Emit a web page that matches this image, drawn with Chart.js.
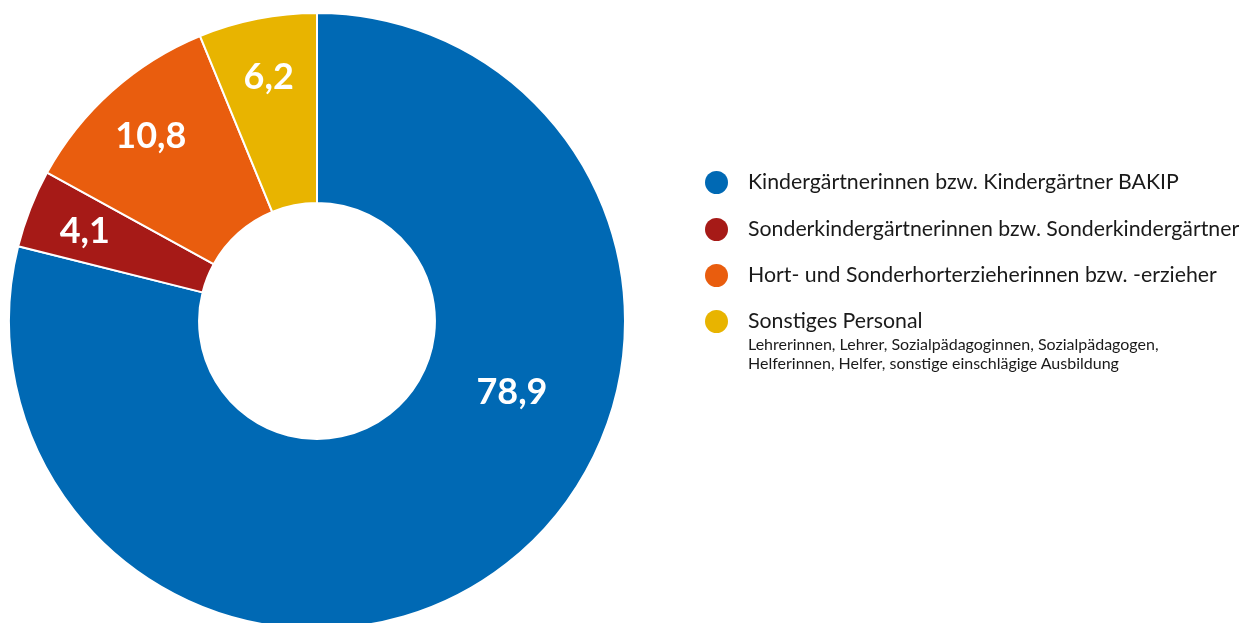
<!DOCTYPE html>
<html>
<head>
<meta charset="utf-8">
<script src="https://cdn.jsdelivr.net/npm/chart.js@4/dist/chart.umd.min.js"></script>
<style>
  html, body { margin: 0; padding: 0; background: #fff; overflow: hidden; width: 1250px; height: 623px; }
  #wrap { position: absolute; left: 0; top: 0; width: 1250px; height: 642px; }
  #legend { position: absolute; left: 705px; top: 0; width: 545px; height: 400px; font-family: Lato, sans-serif; color: #1a1a1a; }
  .dot { position: absolute; left: 0; width: 23px; height: 23px; border-radius: 50%; }
  .lbl { position: absolute; left: 43px; font-size: 21.3px; line-height: 24px; white-space: nowrap; }
  .sub { position: absolute; left: 43px; font-size: 16px; line-height: 19px; white-space: nowrap; }
</style>
</head>
<body>
<div id="wrap"><canvas id="c"></canvas></div>
<div id="legend"></div>
<script>
const categories = [
  "Kindergärtnerinnen bzw. Kindergärtner BAKIP",
  "Sonderkindergärtnerinnen bzw. Sonderkindergärtner",
  "Hort- und Sonderhorterzieherinnen bzw. -erzieher",
  "Sonstiges Personal"
];
const subLabels = [
  [],
  [],
  [],
  ["Lehrerinnen, Lehrer, Sozialpädagoginnen, Sozialpädagogen,", "Helferinnen, Helfer, sonstige einschlägige Ausbildung"]
];
const values = [78.9, 4.1, 10.8, 6.2];
const valueLabels = ["78,9", "4,1", "10,8", "6,2"];
const colors = ["#0069B4", "#A61A17", "#E95D0E", "#E8B400"];

// legend (HTML)
const legendTops = [182, 229, 275, 321];
const legend = document.getElementById('legend');
categories.forEach((c, i) => {
  const y = legendTops[i];
  const dot = document.createElement('div');
  dot.className = 'dot';
  dot.style.top = (y - 11.5) + 'px';
  dot.style.background = colors[i];
  legend.appendChild(dot);
  const l = document.createElement('div');
  l.className = 'lbl';
  l.style.top = (y - 13) + 'px';
  l.textContent = c;
  legend.appendChild(l);
  subLabels[i].forEach((s, j) => {
    const d = document.createElement('div');
    d.className = 'sub';
    d.style.top = (y + 13 + j * 18.5) + 'px';
    d.textContent = s;
    legend.appendChild(d);
  });
});

const labelPlugin = {
  id: 'sliceLabels',
  afterDatasetsDraw(chart) {
    const ctx = chart.ctx;
    const meta = chart.getDatasetMeta(0);
    const fs = 36;
    ctx.save();
    ctx.fillStyle = '#fff';
    ctx.font = 'bold ' + fs + 'px Lato, sans-serif';
    ctx.textAlign = 'center';
    ctx.textBaseline = 'alphabetic';
    meta.data.forEach((arc, i) => {
      const p = arc.getProps(['x', 'y', 'startAngle', 'endAngle', 'innerRadius', 'outerRadius'], true);
      let ang = (p.startAngle + p.endAngle) / 2;
      let r = p.outerRadius * 0.81;
      if (i === 0) { // large slice label placed nearer the right side
        ang = p.startAngle + (p.endAngle - p.startAngle) * 0.386;
        r = p.outerRadius * 0.672;
      }
      ctx.fillText(valueLabels[i], p.x + Math.cos(ang) * r, p.y + Math.sin(ang) * r + fs * 0.36);
    });
    ctx.restore();
  }
};

new Chart(document.getElementById('c'), {
  type: 'doughnut',
  data: {
    labels: categories,
    datasets: [{
      data: values,
      backgroundColor: colors,
      borderColor: '#ffffff',
      borderWidth: 2,
      borderJoinStyle: 'miter'
    }]
  },
  options: {
    responsive: true,
    maintainAspectRatio: false,
    animation: false,
    radius: 308,
    cutout: 121,
    layout: { padding: { left: 0, right: 616, top: 0, bottom: 0 } },
    plugins: { legend: { display: false }, tooltip: { enabled: false } }
  },
  plugins: [labelPlugin]
});
</script>
</body>
</html>
